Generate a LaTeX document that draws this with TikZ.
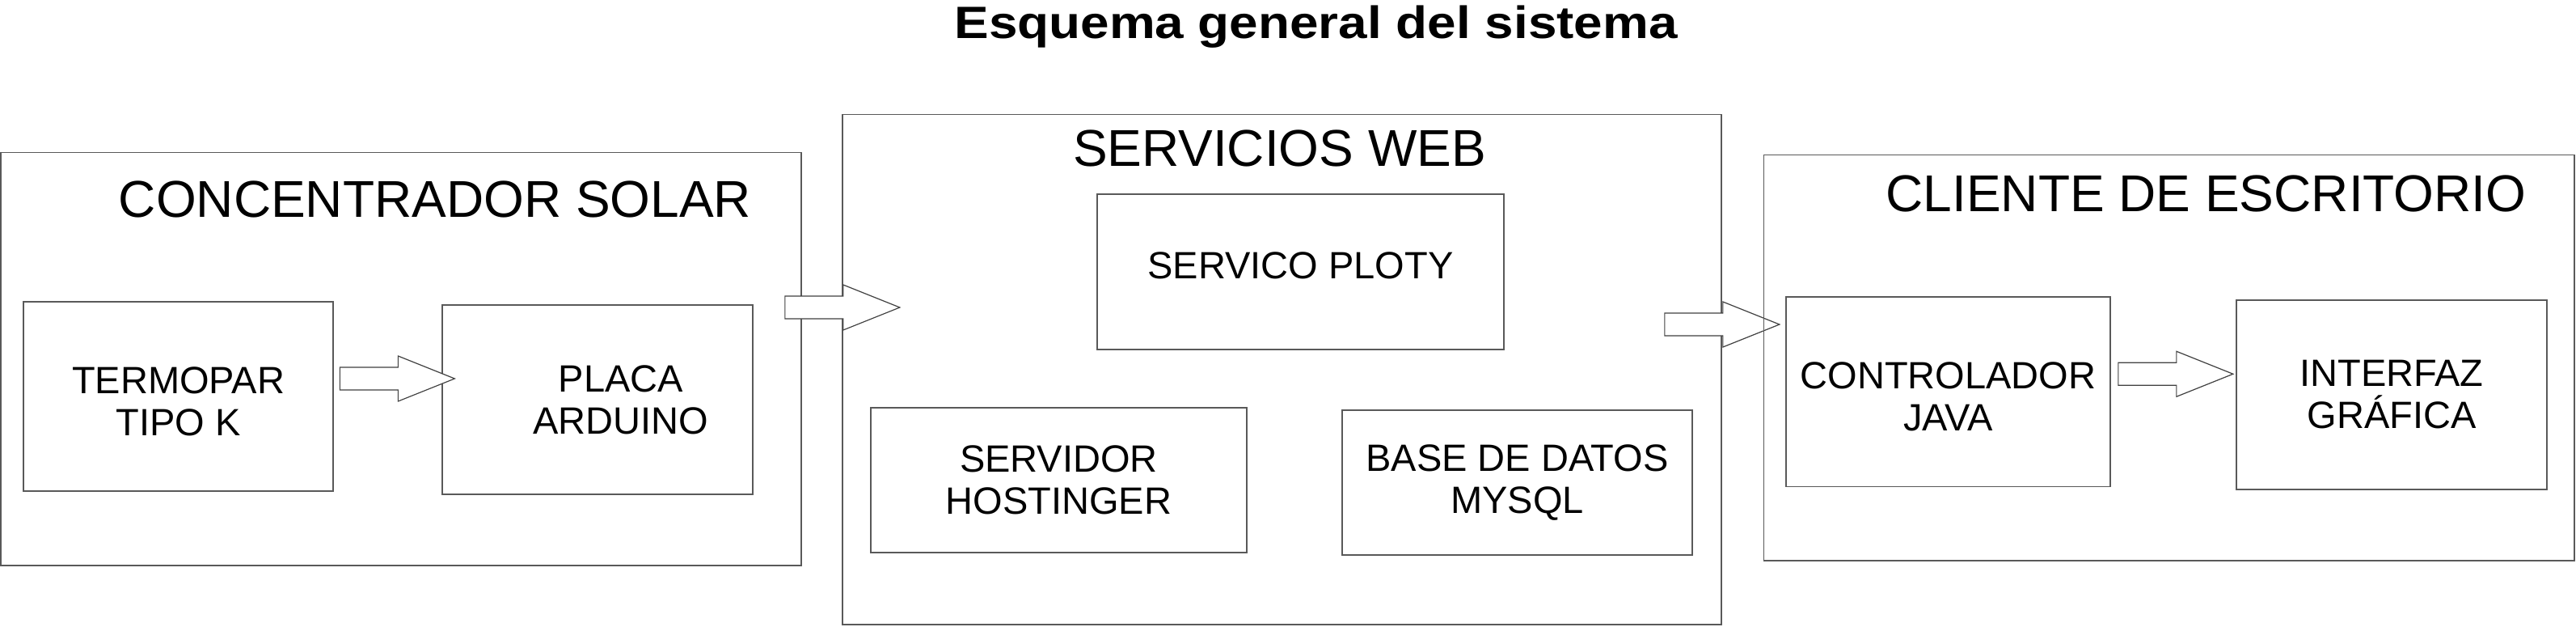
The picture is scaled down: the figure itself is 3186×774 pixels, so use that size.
\documentclass[tikz,border=0pt]{standalone}
\usepackage{fontspec}
\setmainfont{Liberation Sans}
\newfontfamily\titlefont[FakeStretch=1.14]{Liberation Sans}
\usepackage{tikz}
\usetikzlibrary{calc}

% hollow block arrow, #1 = middle of the shaft's back end
\newcommand{\blockarrow}[1]{%
   \draw[barrow] (#1) ++(0,-14) -- ++(72,0) -- ++(0,-14) -- ++(70,28)
      -- ++(-70,28) -- ++(0,-14) -- ++(-72,0) -- cycle;}

\begin{document}
\begin{tikzpicture}[x=1pt,y=-1pt,
   box/.style n args={2}{draw=black!65,line width=1.7pt,minimum width=#1pt,minimum height=#2pt,inner sep=0pt,boxtext},
   boxtext/.style={align=center,text=black,font=\fontsize{47}{52}\selectfont},
   sect/.style={anchor=base,text=black,font=\fontsize{64}{70}\selectfont},
   barrow/.style={draw=black!75,line width=1.2pt,fill=white,line join=miter}]
\useasboundingbox (0,0) rectangle (3186,774);
\node[anchor=base,text=black,font=\titlefont\bfseries\fontsize{56}{60}\selectfont] (title) at (1627.5,47) {Esquema general del sistema};
% concentrador solar
\node[box={990}{510.5}] (con) at (496,443.75) {};
\node[sect] (conlbl) at (538,268) {CONCENTRADOR SOLAR};
\node[box={383}{234},label={[boxtext,yshift=-6pt]center:{TERMOPAR\\TIPO K}}] (termo) at (220.5,490) {};
\node[box={384}{234},label={[boxtext,xshift=29pt]center:{PLACA\\ARDUINO}}] (placa) at (739,494) {};
% servicios web
\node[box={1087}{630.5}] (serv) at (1585.5,456.75) {};
\node[sect] (servlbl) at (1582.5,205) {SERVICIOS WEB};
\node[box={503}{192},label={[boxtext,yshift=8pt]center:SERVICO PLOTY}] (ploty) at (1608.5,336) {};
\node[box={465}{179}] (host) at (1309.5,593.5) {SERVIDOR\\HOSTINGER};
\node[box={433}{179}] (db) at (1876.5,596.5) {BASE DE DATOS\\MYSQL};
\coordinate (a1) at ($(termo.east)+(7.5,-22)$);
\coordinate (a2) at ($(con.east)+(-21,-63.75)$);
\coordinate (a3) at ($(serv.east)+(-71,-55.75)$);
\foreach \a in {a1,a2,a3} {
   \blockarrow{\a}
}
% cliente de escritorio
\node[box={1002.5}{501.5}] (cli) at (2682.75,442.25) {};
\node[sect] (clilbl) at (2728.5,261) {CLIENTE DE ESCRITORIO};
\node[box={401}{234.5},label={[boxtext,yshift=-6pt]center:{CONTROLADOR\\JAVA}}] (ctrl) at (2409.5,484.25) {};
\node[box={384}{234}] (gui) at (2958,488) {INTERFAZ\\GRÁFICA};
\coordinate (a4) at ($(ctrl.east)+(9,-22)$);
\blockarrow{a4}
\end{tikzpicture}
\end{document}
